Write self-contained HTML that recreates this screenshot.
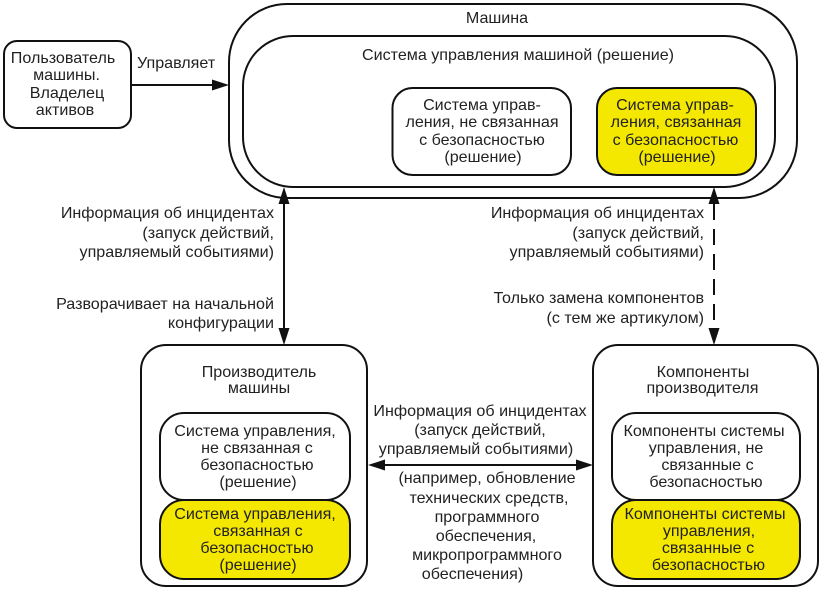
<!DOCTYPE html>
<html><head><meta charset="utf-8"><style>
html,body{margin:0;padding:0;background:#fff}
svg{display:block}
text{font-family:"Liberation Sans",sans-serif;font-size:16.1px;fill:#222}
.m{text-anchor:middle}.e{text-anchor:end}
rect{stroke:#111;stroke-width:2;fill:#fff}
.y{fill:#f5e800}
.l{stroke:#111;stroke-width:2;fill:none}
.a{fill:#111;stroke:none}
</style></head><body>
<svg width="821" height="590" viewBox="0 0 821 590" xmlns="http://www.w3.org/2000/svg">
<rect x="4" y="41" width="127" height="87" rx="13"/>
<rect x="229" y="4" width="568" height="194" rx="58"/>
<rect x="243" y="36" width="532" height="151" rx="50"/>
<rect x="392.500" y="88" width="178.500" height="87" rx="20"/>
<rect class="y" x="597" y="88" width="159" height="87" rx="20"/>
<rect x="141" y="345" width="226" height="241" rx="25"/>
<rect x="160" y="413" width="190" height="87" rx="24"/>
<rect class="y" x="160" y="500" width="190" height="79" rx="24"/>
<rect x="593" y="345" width="225" height="241" rx="25"/>
<rect x="612" y="413" width="188" height="87" rx="24"/>
<rect class="y" x="612" y="500" width="188" height="79" rx="24"/>

<line class="l" x1="131" y1="85" x2="215" y2="85"/>
<polygon class="a" points="229,85 212,79.500 212,90.500"/>
<line class="l" x1="284" y1="198" x2="284" y2="332"/>
<polygon class="a" points="284,187 278.500,204 289.500,204"/>
<polygon class="a" points="284,345 278.500,328 289.500,328"/>
<line class="l" x1="714" y1="204" x2="714" y2="332" stroke-dasharray="16 9"/>
<polygon class="a" points="714,187 708.500,204 719.500,204"/>
<polygon class="a" points="714,345 708.500,328 719.500,328"/>
<line class="l" x1="380" y1="465" x2="580" y2="465"/>
<polygon class="a" points="368,465 385,459.500 385,470.500"/>
<polygon class="a" points="593,465 576,459.500 576,470.500"/>

<g class="m">
<text x="63" y="63">Пользователь</text>
<text x="66.500" y="80">машины.</text>
<text x="67" y="98">Владелец</text>
<text x="65" y="115">активов</text>
<text x="497" y="23">Машина</text>
<text x="518" y="60">Система управления машиной (решение)</text>
<text x="482" y="110">Система управ-</text>
<text x="482" y="127">ления, не связанная</text>
<text x="482" y="145">с безопасностью</text>
<text x="483" y="162">(решение)</text>
<text x="675" y="110">Система управ-</text>
<text x="676" y="127">ления, связанная</text>
<text x="675.500" y="145">с безопасностью</text>
<text x="677" y="162">(решение)</text>
<text x="259" y="377">Производитель</text>
<text x="259" y="393">машины</text>
<text x="255" y="436">Система управления,</text>
<text x="257" y="453">не связанная с</text>
<text x="257" y="470">безопасностью</text>
<text x="258" y="487">(решение)</text>
<text x="255" y="519">Система управления,</text>
<text x="258" y="536">связанная с</text>
<text x="257" y="553">безопасностью</text>
<text x="258" y="570">(решение)</text>
<text x="703" y="377">Компоненты</text>
<text x="702.500" y="393">производителя</text>
<text x="704" y="436">Компоненты системы</text>
<text x="706" y="453">управления, не</text>
<text x="707.500" y="470">связанные с</text>
<text x="706" y="487">безопасностью</text>
<text x="705" y="519">Компоненты системы</text>
<text x="709" y="536">управления,</text>
<text x="708" y="553">связанные с</text>
<text x="708.500" y="570">безопасностью</text>
<text x="480" y="416">Информация об инцидентах</text>
<text x="480" y="435">(запуск действий,</text>
<text x="476" y="454">управляемый событиями)</text>
<text x="487" y="483">(например, обновление</text>
<text x="489" y="503">технических средств,</text>
<text x="487" y="522">программного</text>
<text x="486" y="541">обеспечения,</text>
<text x="487" y="560">микропрограммного</text>
<text x="472.500" y="579">обеспечения)</text>
</g>
<text x="137" y="68">Управляет</text>
<g class="e">
<text x="274" y="218">Информация об инцидентах</text>
<text x="274" y="238">(запуск действий,</text>
<text x="274" y="257">управляемый событиями)</text>
<text x="274" y="309">Разворачивает на начальной</text>
<text x="274" y="328">конфигурации</text>
<text x="704" y="218">Информация об инцидентах</text>
<text x="704" y="238">(запуск действий,</text>
<text x="704" y="257">управляемый событиями)</text>
<text x="704" y="303">Только замена компонентов</text>
<text x="704" y="323">(с тем же артикулом)</text>
</g>
</svg>
</body></html>
